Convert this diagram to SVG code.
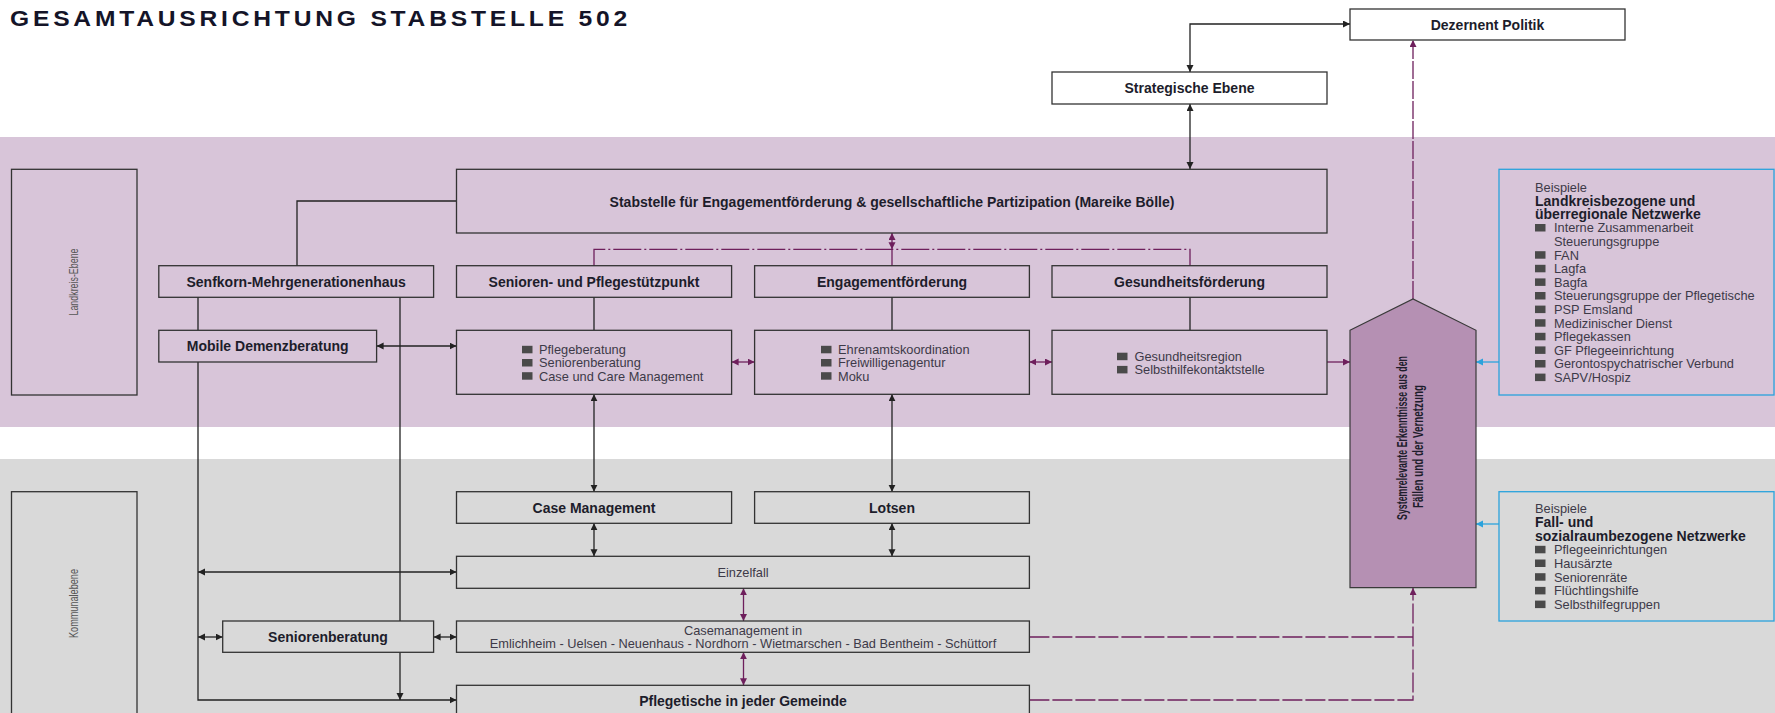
<svg xmlns="http://www.w3.org/2000/svg" width="1775" height="713" viewBox="0 0 1775 713">
<style>
.box{fill:none;stroke:#333;stroke-width:1.3}
.wbox{fill:#fff;stroke:#333;stroke-width:1.3}
.bbox{fill:none;stroke:#2aa2dc;stroke-width:1.3}
text{font-family:"Liberation Sans",Arial,sans-serif}
.h{font-weight:bold;font-size:14px;fill:#1d1d2b;text-anchor:middle;dominant-baseline:central}
.hl{font-weight:bold;font-size:14px;fill:#1d1d2b;dominant-baseline:central}
.t{font-size:12.8px;fill:#3d3a48;dominant-baseline:central}
.tm{font-size:12.8px;fill:#3d3a48;text-anchor:middle;dominant-baseline:central}
.v{font-size:12px;fill:#555;text-anchor:middle;dominant-baseline:central}
.bl{fill:#4a4a4a}
.c{fill:none;stroke:#222;stroke-width:1.3}
.p{fill:none;stroke:#6e1f5c;stroke-width:1.3}
.b{fill:none;stroke:#2aa2dc;stroke-width:1.3}
</style>
<defs>
<marker id="ak" markerUnits="userSpaceOnUse" markerWidth="8" markerHeight="8" refX="7" refY="3.5" orient="auto-start-reverse"><path d="M0,0 L7,3.5 L0,7 z" fill="#222"/></marker>
<marker id="ap" markerUnits="userSpaceOnUse" markerWidth="8" markerHeight="8" refX="7" refY="3.5" orient="auto-start-reverse"><path d="M0,0 L7,3.5 L0,7 z" fill="#6e1f5c"/></marker>
<marker id="ab" markerUnits="userSpaceOnUse" markerWidth="8" markerHeight="8" refX="7" refY="3.5" orient="auto-start-reverse"><path d="M0,0 L7,3.5 L0,7 z" fill="#2aa2dc"/></marker>
</defs>
<rect x="0" y="0" width="1775" height="713" fill="#fff"/>
<rect id="band-landkreis" x="0" y="137" width="1775" height="290" fill="#d8c5d9"/>
<rect id="band-kommunal" x="0" y="459" width="1775" height="254" fill="#d9d9d9"/>
<text transform="translate(10,26) scale(1.12,1)" x="0" y="0" font-weight="bold" font-size="22" fill="#141428" textLength="551" lengthAdjust="spacing">GESAMTAUSRICHTUNG STABSTELLE 502</text>

<g id="connectors">
<path class="c" d="M1190,72 V24 H1350" marker-start="url(#ak)" marker-end="url(#ak)"/>
<path class="c" d="M1190,104 V169" marker-start="url(#ak)" marker-end="url(#ak)"/>
<path class="c" d="M456.5,201 H297 V266"/>
<path class="c" d="M198,297 V330"/>
<path class="c" d="M198,362 V700 H456.5" marker-end="url(#ak)"/>
<path class="c" d="M400,297 V621"/>
<path class="c" d="M400,652.3 V700" marker-end="url(#ak)"/>
<path class="c" d="M376.6,346 H456.5" marker-start="url(#ak)" marker-end="url(#ak)"/>
<path class="c" d="M198,572 H456.5" marker-start="url(#ak)" marker-end="url(#ak)"/>
<path class="c" d="M198,637 H222.7" marker-start="url(#ak)" marker-end="url(#ak)"/>
<path class="c" d="M433.6,637 H456.5" marker-start="url(#ak)" marker-end="url(#ak)"/>
<path class="c" d="M594,297 V330"/>
<path class="c" d="M892,297 V330"/>
<path class="c" d="M1190,297 V330"/>
<path class="c" d="M594,394.3 V491.7" marker-start="url(#ak)" marker-end="url(#ak)"/>
<path class="c" d="M594,523.3 V556.3" marker-start="url(#ak)" marker-end="url(#ak)"/>
<path class="c" d="M892,394.3 V491.7" marker-start="url(#ak)" marker-end="url(#ak)"/>
<path class="c" d="M892,523.3 V556.3" marker-start="url(#ak)" marker-end="url(#ak)"/>
<path class="p" d="M594,266 V249.3 H1190 V266" stroke-dasharray="28 3 2 3"/>
<path class="p" d="M892,249.3 V266"/>
<path class="p" d="M892,249.3 V233" marker-start="url(#ap)" marker-end="url(#ap)"/>
<path class="p" d="M731.6,362 H754.6" marker-start="url(#ap)" marker-end="url(#ap)"/>
<path class="p" d="M1029.4,362 H1052" marker-start="url(#ap)" marker-end="url(#ap)"/>
<path class="p" d="M1327,362 H1350" marker-end="url(#ap)"/>
<path class="p" d="M1413,299 V40" stroke-dasharray="18 2" marker-end="url(#ap)"/>
<path class="p" d="M743.5,588.3 V621" marker-start="url(#ap)" marker-end="url(#ap)"/>
<path class="p" d="M743.5,652.3 V685.3" marker-start="url(#ap)" marker-end="url(#ap)"/>
<path class="p" d="M1029.4,637 H1413" stroke-dasharray="20 3"/>
<path class="p" d="M1029.4,700 H1413 V588" stroke-dasharray="20 3" marker-end="url(#ap)"/>
<path class="b" d="M1499,362 H1476" marker-end="url(#ab)"/>
<path class="b" d="M1499,524 H1476" marker-end="url(#ab)"/>
</g>

<g id="dezernent-politik"><rect class="wbox" x="1350" y="9" width="275" height="31"/><text class="h" x="1487.5" y="24.5">Dezernent Politik</text></g>
<g id="strategische-ebene"><rect class="wbox" x="1052" y="72" width="275" height="32"/><text class="h" x="1189.5" y="88">Strategische Ebene</text></g>

<g id="landkreis-ebene"><rect class="box" x="11.5" y="169.3" width="125.5" height="225.7"/><text class="v" transform="translate(74,282) rotate(-90)" x="0" y="0" textLength="67" lengthAdjust="spacingAndGlyphs">Landkreis-Ebene</text></g>
<g id="kommunalebene"><rect class="box" x="11.5" y="491.7" width="125.5" height="224"/><text class="v" transform="translate(74,603.5) rotate(-90)" x="0" y="0" textLength="69" lengthAdjust="spacingAndGlyphs">Kommunalebene</text></g>

<g id="stabstelle"><rect class="box" x="456.5" y="169.3" width="870.5" height="63.7"/><text class="h" x="892" y="201.5">Stabstelle für Engagementförderung &amp; gesellschaftliche Partizipation (Mareike Bölle)</text></g>

<g id="senfkorn"><rect class="box" x="158.8" y="265.7" width="274.8" height="31.6"/><text class="h" x="296.2" y="281.5">Senfkorn-Mehrgenerationenhaus</text></g>
<g id="mobile-demenzberatung"><rect class="box" x="158.8" y="330.3" width="217.8" height="31.7"/><text class="h" x="267.7" y="346">Mobile Demenzberatung</text></g>

<g id="senioren-pflegestuetzpunkt"><rect class="box" x="456.5" y="265.7" width="275.1" height="31.6"/><text class="h" x="594" y="281.5">Senioren- und Pflegestützpunkt</text></g>
<g id="engagementfoerderung"><rect class="box" x="754.6" y="265.7" width="274.8" height="31.6"/><text class="h" x="892" y="281.5">Engagementförderung</text></g>
<g id="gesundheitsfoerderung"><rect class="box" x="1052" y="265.7" width="275" height="31.6"/><text class="h" x="1189.5" y="281.5">Gesundheitsförderung</text></g>

<g id="pflege-leistungen"><rect class="box" x="456.5" y="330.3" width="275.1" height="64"/>
<rect class="bl" x="522" y="345.8" width="10.5" height="7.5"/><text class="t" x="539" y="349.6">Pflegeberatung</text>
<rect class="bl" x="522" y="359" width="10.5" height="7.5"/><text class="t" x="539" y="362.8">Seniorenberatung</text>
<rect class="bl" x="522" y="372.2" width="10.5" height="7.5"/><text class="t" x="539" y="376">Case und Care Management</text></g>

<g id="engagement-leistungen"><rect class="box" x="754.6" y="330.3" width="274.8" height="64"/>
<rect class="bl" x="821" y="345.8" width="10.5" height="7.5"/><text class="t" x="838" y="349.6">Ehrenamtskoordination</text>
<rect class="bl" x="821" y="359" width="10.5" height="7.5"/><text class="t" x="838" y="362.8">Freiwilligenagentur</text>
<rect class="bl" x="821" y="372.2" width="10.5" height="7.5"/><text class="t" x="838" y="376">Moku</text></g>

<g id="gesundheit-leistungen"><rect class="box" x="1052" y="330.3" width="275" height="64"/>
<rect class="bl" x="1117" y="352.7" width="10.5" height="7.5"/><text class="t" x="1134.5" y="356.5">Gesundheitsregion</text>
<rect class="bl" x="1117" y="365.9" width="10.5" height="7.5"/><text class="t" x="1134.5" y="369.7">Selbsthilfekontaktstelle</text></g>

<g id="systemrelevante-erkenntnisse"><path d="M1350,330.3 L1413,299 L1476,330.3 L1476,587.7 L1350,587.7 Z" fill="#b590b3" stroke="#3a3a3a" stroke-width="1.2"/>
<text class="h" font-size="12.5" transform="translate(1402,438) rotate(-90)" x="0" y="0" textLength="164" lengthAdjust="spacingAndGlyphs">Systemrelevante Erkenntnisse aus den</text>
<text class="h" font-size="12.5" transform="translate(1417.5,446.5) rotate(-90)" x="0" y="0" textLength="123" lengthAdjust="spacingAndGlyphs">Fällen und der Vernetzung</text></g>

<g id="netzwerke-landkreis"><rect class="bbox" x="1499" y="169.3" width="275" height="225.7"/>
<text class="t" x="1535" y="187">Beispiele</text>
<text class="hl" x="1535" y="200.6">Landkreisbezogene und</text>
<text class="hl" x="1535" y="214.2">überregionale Netzwerke</text>
<rect class="bl" x="1535" y="224" width="10.5" height="7.5"/><text class="t" x="1554" y="227.8">Interne Zusammenarbeit</text>
<text class="t" x="1554" y="241.4">Steuerungsgruppe</text>
<rect class="bl" x="1535" y="251.2" width="10.5" height="7.5"/><text class="t" x="1554" y="255">FAN</text>
<rect class="bl" x="1535" y="264.8" width="10.5" height="7.5"/><text class="t" x="1554" y="268.6">Lagfa</text>
<rect class="bl" x="1535" y="278.4" width="10.5" height="7.5"/><text class="t" x="1554" y="282.2">Bagfa</text>
<rect class="bl" x="1535" y="292" width="10.5" height="7.5"/><text class="t" x="1554" y="295.8">Steuerungsgruppe der Pflegetische</text>
<rect class="bl" x="1535" y="305.6" width="10.5" height="7.5"/><text class="t" x="1554" y="309.4">PSP Emsland</text>
<rect class="bl" x="1535" y="319.2" width="10.5" height="7.5"/><text class="t" x="1554" y="323">Medizinischer Dienst</text>
<rect class="bl" x="1535" y="332.8" width="10.5" height="7.5"/><text class="t" x="1554" y="336.6">Pflegekassen</text>
<rect class="bl" x="1535" y="346.4" width="10.5" height="7.5"/><text class="t" x="1554" y="350.2">GF Pflegeeinrichtung</text>
<rect class="bl" x="1535" y="360" width="10.5" height="7.5"/><text class="t" x="1554" y="363.8">Gerontospychatrischer Verbund</text>
<rect class="bl" x="1535" y="373.6" width="10.5" height="7.5"/><text class="t" x="1554" y="377.4">SAPV/Hospiz</text></g>

<g id="netzwerke-fall"><rect class="bbox" x="1499" y="491.7" width="275" height="129.3"/>
<text class="t" x="1535" y="508.5">Beispiele</text>
<text class="hl" x="1535" y="522.2">Fall- und</text>
<text class="hl" x="1535" y="535.9">sozialraumbezogene Netzwerke</text>
<rect class="bl" x="1535" y="545.8" width="10.5" height="7.5"/><text class="t" x="1554" y="549.6">Pflegeeinrichtungen</text>
<rect class="bl" x="1535" y="559.5" width="10.5" height="7.5"/><text class="t" x="1554" y="563.3">Hausärzte</text>
<rect class="bl" x="1535" y="573.2" width="10.5" height="7.5"/><text class="t" x="1554" y="577">Seniorenräte</text>
<rect class="bl" x="1535" y="586.9" width="10.5" height="7.5"/><text class="t" x="1554" y="590.7">Flüchtlingshilfe</text>
<rect class="bl" x="1535" y="600.6" width="10.5" height="7.5"/><text class="t" x="1554" y="604.4">Selbsthilfegruppen</text></g>

<g id="case-management"><rect class="box" x="456.5" y="491.7" width="275.1" height="31.6"/><text class="h" x="594" y="507.5">Case Management</text></g>
<g id="lotsen"><rect class="box" x="754.6" y="491.7" width="274.8" height="31.6"/><text class="h" x="892" y="507.5">Lotsen</text></g>
<g id="einzelfall"><rect class="box" x="456.5" y="556.3" width="572.9" height="32"/><text class="tm" x="743" y="572">Einzelfall</text></g>
<g id="seniorenberatung"><rect class="box" x="222.7" y="621" width="210.9" height="31.3"/><text class="h" x="328" y="636.7">Seniorenberatung</text></g>
<g id="casemanagement-gemeinden"><rect class="box" x="456.5" y="621" width="572.9" height="31.3"/><text class="tm" x="743" y="630.6">Casemanagement in</text><text class="tm" x="743" y="643.3">Emlichheim - Uelsen - Neuenhaus - Nordhorn - Wietmarschen - Bad Bentheim - Schüttorf</text></g>
<g id="pflegetische"><rect class="box" x="456.5" y="685.3" width="572.9" height="31"/><text class="h" x="743" y="700.7">Pflegetische in jeder Gemeinde</text></g>
</svg>
